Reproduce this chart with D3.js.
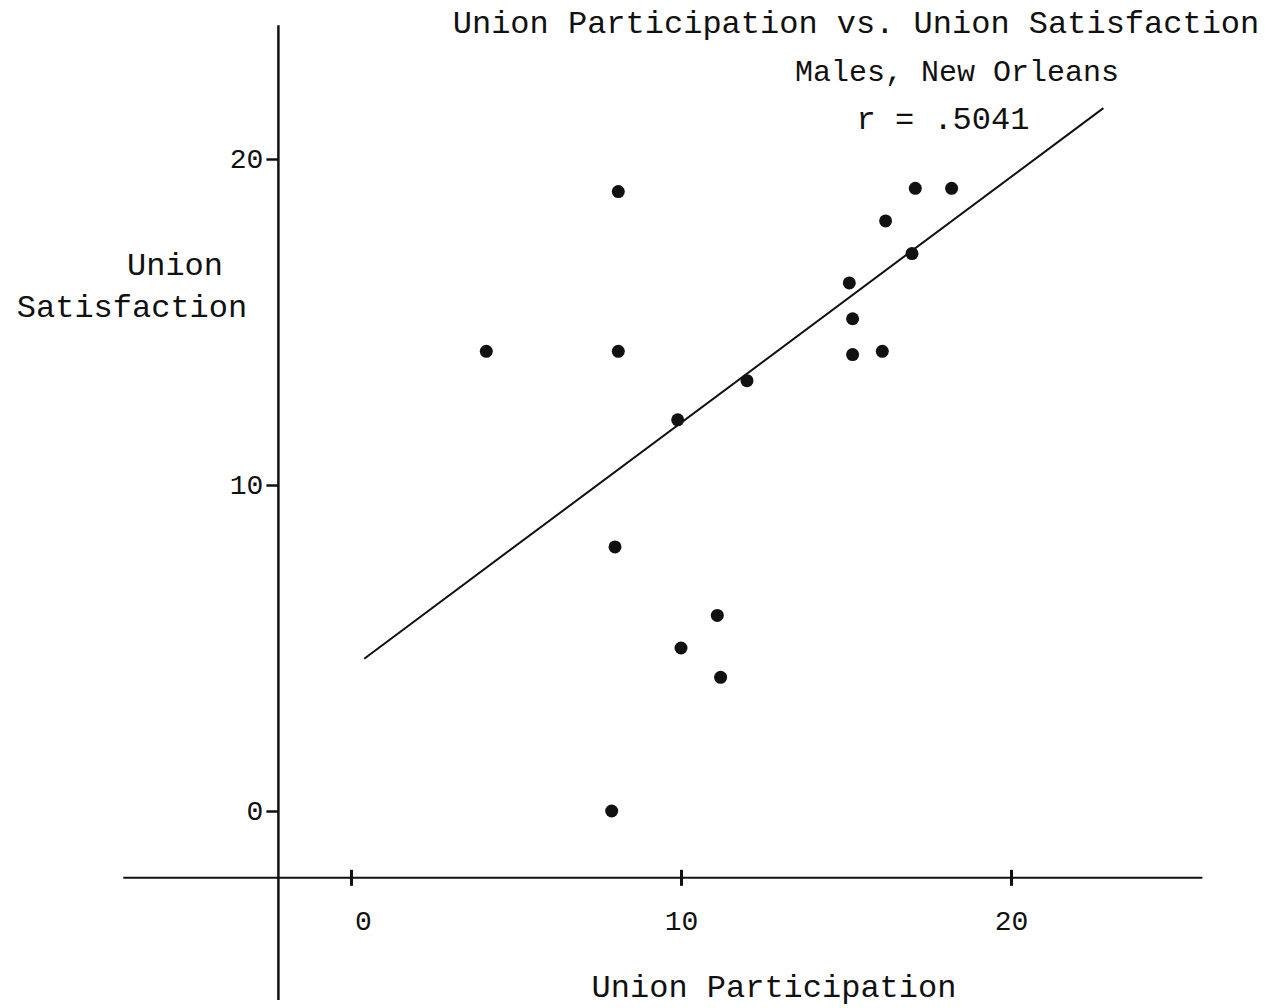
<!DOCTYPE html>
<html>
<head>
<meta charset="utf-8">
<script src="https://cdn.jsdelivr.net/npm/d3@7/dist/d3.min.js"></script>
<style>
  body { margin: 0; background: #fff; }
  svg text { font-family: "Liberation Mono", "DejaVu Sans Mono", monospace; fill: #111; }
</style>
</head>
<body>
<div id="chart"></div>
<script>
'use strict';

// data
const participation = [4.1, 8.1, 8.1, 8.0, 7.9, 9.9, 10.0, 11.1, 11.2, 12.0, 15.1, 15.2, 15.2, 16.1, 16.2, 17.0, 17.1, 18.2];
const satisfaction  = [14.1, 19.0, 14.1, 8.1, 0.0, 12.0, 5.0, 6.0, 4.1, 13.2, 16.2, 15.1, 14.0, 14.1, 18.1, 17.1, 19.1, 19.1];
const xTicks = [0, 10, 20];
const yTicks = [0, 10, 20];
const fitSlope = 0.754, fitIntercept = 4.37, fitRange = [0.4, 22.8];

const width = 1268, height = 1008;

const svg = d3.select("#chart").append("svg")
  .attr("width", width)
  .attr("height", height);

// scales: data units -> page pixels
const x = d3.scaleLinear().domain([0, 20]).range([351, 1011]);
const y = d3.scaleLinear().domain([0, 20]).range([811, 159]);

// the axes cross below and left of the origin, like the original
const axisY = -2.05, axisX = -2.2;

// horizontal axis line
svg.append("line")
  .attr("x1", x(-6.9)).attr("x2", x(25.8))
  .attr("y1", y(axisY)).attr("y2", y(axisY))
  .attr("stroke", "#111").attr("stroke-width", 2);

// vertical axis line
svg.append("line")
  .attr("x1", x(axisX)).attr("x2", x(axisX))
  .attr("y1", y(24.1)).attr("y2", y(-5.8))
  .attr("stroke", "#111").attr("stroke-width", 2.5);

// x ticks cross the axis
const gx = svg.append("g")
  .attr("transform", "translate(0," + (y(axisY) - 8) + ")")
  .call(d3.axisBottom(x).tickValues(xTicks).tickSize(16).tickPadding(24));
gx.select(".domain").remove();
gx.selectAll(".tick line").attr("stroke", "#111").attr("stroke-width", 3);
gx.selectAll(".tick text")
  .style("font-size", "28px")
  .attr("fill", "#111")
  .attr("dx", d => d === 0 ? 12 : 0);

// y ticks stick out to the left
const gy = svg.append("g")
  .attr("transform", "translate(" + x(axisX) + ",0)")
  .call(d3.axisLeft(y).tickValues(yTicks).tickSize(12).tickPadding(3));
gy.select(".domain").remove();
gy.selectAll(".tick line").attr("stroke", "#111").attr("stroke-width", 2.5);
gy.selectAll(".tick text")
  .style("font-size", "28px")
  .attr("fill", "#111");

// regression line
svg.append("line")
  .attr("x1", x(fitRange[0])).attr("y1", y(fitIntercept + fitSlope * fitRange[0]))
  .attr("x2", x(fitRange[1])).attr("y2", y(fitIntercept + fitSlope * fitRange[1]))
  .attr("stroke", "#111").attr("stroke-width", 2);

// points
svg.selectAll("circle.dot")
  .data(participation.map((p, i) => ({p: p, s: satisfaction[i]})))
  .enter().append("circle")
  .attr("class", "dot")
  .attr("cx", d => x(d.p))
  .attr("cy", d => y(d.s))
  .attr("r", 6.5)
  .attr("fill", "#111");

// titles and labels
const label = (txt, cx, base, size) => svg.append("text")
  .attr("x", cx).attr("y", base)
  .attr("text-anchor", "middle")
  .style("font-size", size + "px")
  .text(txt);

label("Union Participation vs. Union Satisfaction", 856, 33, 32);
label("Males, New Orleans", 957, 81, 30);
label("r = .5041", 943, 129, 32);
label("Union", 175, 275, 32);
label("Satisfaction", 132, 317, 32);
label("Union Participation", 774, 997, 32);
</script>
</body>
</html>
